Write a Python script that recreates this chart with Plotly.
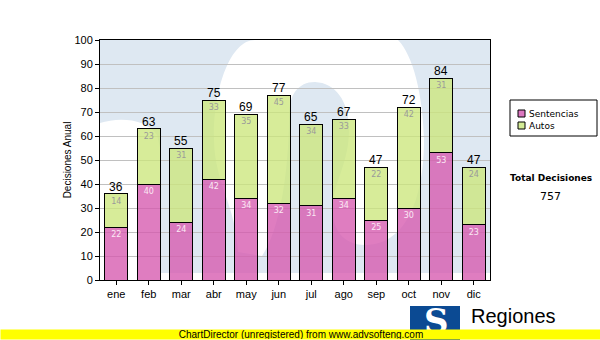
import plotly.graph_objects as go

# Monthly decisions, split by type
months = ["ene", "feb", "mar", "abr", "may", "jun", "jul", "ago", "sep", "oct", "nov", "dic"]
sentencias = [22, 40, 24, 42, 34, 32, 31, 34, 25, 30, 53, 23]
autos = [14, 23, 31, 33, 35, 45, 34, 33, 22, 42, 31, 24]
totals = [s + a for s, a in zip(sentencias, autos)]
grand_total = sum(totals)

W, H = 600, 340
L, R, T, B = 100, 490, 40, 280  # plot area in page pixels


def px(x):
    return (x - L) / (R - L)


def py(y):
    return (B - y) / (B - T)


def path(cmds):
    out = []
    for c in cmds:
        if isinstance(c, str):
            out.append(c)
        else:
            out.append(f"{px(c[0]):.4f},{py(c[1]):.4f}")
    return " ".join(out)


fig = go.Figure()

fig.add_bar(
    x=months, y=sentencias, name="Sentencias",
    marker=dict(color="rgba(214,89,174,0.78)", line=dict(color="black", width=1)),
    text=sentencias, textposition="inside", insidetextanchor="end", textangle=0,
    insidetextfont=dict(family="DejaVu Sans", size=8, color="#fbe8f4"),
    showlegend=False,
)
fig.add_bar(
    x=months, y=autos, name="Autos",
    marker=dict(color="rgba(204,231,124,0.78)", line=dict(color="black", width=1)),
    text=autos, textposition="inside", insidetextanchor="end", textangle=0,
    insidetextfont=dict(family="DejaVu Sans", size=8, color="#9a9a9a"),
    showlegend=False,
)

annotations = []
for m, t in zip(months, totals):
    annotations.append(dict(
        x=m, y=t, xref="x", yref="y", text=str(t), showarrow=False,
        yanchor="bottom", yshift=-2,
        font=dict(family="Liberation Sans", size=12, color="black"),
    ))

# Watermark logo behind the bars
shapes = [
    dict(type="rect", xref="paper", yref="paper", x0=0, x1=1, y0=py(273), y1=1,
         fillcolor="#dee8f2", line=dict(width=0), layer="below"),
    dict(type="path", xref="paper", yref="paper", layer="below",
         fillcolor="white", line=dict(width=0),
         path=path(["M", (100, 123), "C", (118, 117), (146, 118), (157, 135),
                    "L", (161, 152), "L", (161, 273), "L", (100, 273), "Z"])),
    dict(type="path", xref="paper", yref="paper", layer="below",
         fillcolor="white", line=dict(width=0),
         path=path(["M", (238, 252), "C", (236, 205), (215, 185), (214, 140),
                    "C", (213, 90), (230, 40), (255, 40), "L", (398, 40),
                    "C", (413, 55), (423, 95), (424, 140),
                    "C", (424, 190), (410, 245), (365, 245),
                    "C", (340, 245), (330, 225), (333, 200),
                    "C", (336, 180), (349, 160), (349, 130),
                    "C", (349, 100), (335, 83), (315, 82),
                    "C", (298, 82), (289, 95), (289, 115),
                    "C", (289, 170), (280, 230), (262, 256), "Z"])),
]

# Legend box drawn by hand
shapes += [
    dict(type="rect", xref="paper", yref="paper", x0=px(510), x1=px(597), y0=py(136), y1=py(100),
         fillcolor="white", line=dict(color="black", width=1), layer="above"),
    dict(type="rect", xref="paper", yref="paper", x0=px(518), x1=px(525), y0=py(117), y1=py(110),
         fillcolor="#dc77c0", line=dict(color="black", width=1), layer="above"),
    dict(type="rect", xref="paper", yref="paper", x0=px(518), x1=px(525), y0=py(129), y1=py(122),
         fillcolor="#d4ec96", line=dict(color="black", width=1), layer="above"),
]
annotations += [
    dict(xref="paper", yref="paper", x=px(527), y=py(114), xanchor="left", yanchor="middle",
         text="Sentencias", showarrow=False, font=dict(family="DejaVu Sans", size=9, color="black")),
    dict(xref="paper", yref="paper", x=px(527), y=py(126), xanchor="left", yanchor="middle",
         text="Autos", showarrow=False, font=dict(family="DejaVu Sans", size=9, color="black")),
    dict(xref="paper", yref="paper", x=px(551), y=py(178), xanchor="center", yanchor="middle",
         text="<b>Total Decisiones</b>", showarrow=False,
         font=dict(family="DejaVu Sans", size=9, color="black")),
    dict(xref="paper", yref="paper", x=px(550), y=py(196), xanchor="center", yanchor="middle",
         text=str(grand_total), showarrow=False,
         font=dict(family="DejaVu Sans", size=11, color="black")),
]

# Footer logo
shapes.append(dict(type="rect", xref="paper", yref="paper", x0=px(410), x1=px(460),
                   y0=py(340), y1=py(306), fillcolor="#0b4a93", line=dict(width=0), layer="above"))
annotations += [
    dict(xref="paper", yref="paper", x=px(436), y=py(321), xanchor="center", yanchor="middle",
         text="<b>S</b>", showarrow=False,
         font=dict(family="DejaVu Serif", size=34, color="white")),
    dict(xref="paper", yref="paper", x=px(469), y=py(316), xanchor="left", yanchor="middle",
         text="Regiones", showarrow=False,
         font=dict(family="Liberation Sans", size=20, color="black")),
    dict(xref="paper", yref="paper", x=px(467), y=py(327), xanchor="left", yanchor="top",
         text="<b>Tribunal Supremo de Justicia</b>", showarrow=False,
         font=dict(family="Liberation Sans", size=8, color="black")),
    dict(xref="paper", yref="paper", x=px(0), y=py(340), xanchor="left", yanchor="bottom",
         text="ChartDirector (unregistered) from www.advsofteng.com", showarrow=False,
         width=600, height=9, align="center", bgcolor="#ffff00", borderpad=0,
         font=dict(family="Liberation Sans", size=10, color="black")),
]

fig.update_layout(
    width=W, height=H, autosize=False,
    margin=dict(l=L, r=W - R, t=T, b=H - B, pad=0),
    paper_bgcolor="white", plot_bgcolor="white",
    barmode="stack", bargap=0.29,
    shapes=shapes, annotations=annotations,
    showlegend=False,
    font=dict(family="Liberation Sans", size=11, color="black"),
)
fig.update_xaxes(
    showline=True, linecolor="black", linewidth=1, mirror=True,
    ticks="outside", ticklen=4, tickcolor="black",
    tickfont=dict(family="Liberation Sans", size=11, color="black"),
    showgrid=False,
)
fig.update_yaxes(
    range=[0, 100], dtick=10, showgrid=True, gridcolor="#c0c0c0", gridwidth=1,
    showline=True, linecolor="black", linewidth=1, mirror=True,
    ticks="outside", ticklen=4, tickcolor="black", zeroline=False,
    tickfont=dict(family="Liberation Sans", size=11, color="black"),
    title=dict(text="Decisiones Anual", standoff=0,
               font=dict(family="Liberation Sans", size=10, color="black")),
)

fig.write_html("out.html")
